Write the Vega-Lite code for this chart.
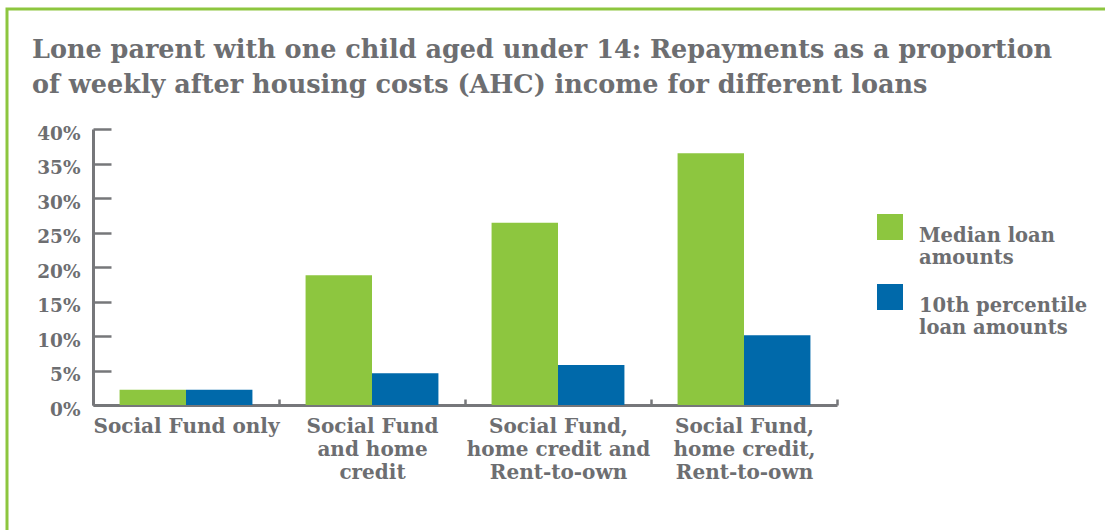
{
  "$schema": "https://vega.github.io/schema/vega-lite/v6.json",
  "autosize": "none",
  "padding": {"left": 7, "top": 9, "right": 0, "bottom": 0},
  "width": 1098,
  "height": 521,
  "background": "#ffffff",
  "title": {
    "text": ["Lone parent with one child aged under 14: Repayments as a proportion", "of weekly after housing costs (AHC) income for different loans"],
    "anchor": "start",
    "frame": "group",
    "baseline": "top",
    "dx": 25,
    "dy": 93,
    "font": "DejaVu Serif",
    "fontWeight": "bold",
    "fontSize": 25.5,
    "lineHeight": 35,
    "color": "#6d6e71"
  },
  "config": {
    "view": {"stroke": "#8dc63f", "strokeWidth": 3, "strokeDash": [1098, 1619, 530, 0]},
    "font": "DejaVu Serif"
  },
  "data": {
    "values": [
      {"loan": "Social Fund only", "series": "Median loan amounts", "value": 0.022},
      {"loan": "Social Fund only", "series": "10th percentile loan amounts", "value": 0.022},
      {"loan": "Social Fund and home credit", "series": "Median loan amounts", "value": 0.188},
      {"loan": "Social Fund and home credit", "series": "10th percentile loan amounts", "value": 0.046},
      {"loan": "Social Fund, home credit and Rent-to-own", "series": "Median loan amounts", "value": 0.264},
      {"loan": "Social Fund, home credit and Rent-to-own", "series": "10th percentile loan amounts", "value": 0.058},
      {"loan": "Social Fund, home credit, Rent-to-own", "series": "Median loan amounts", "value": 0.365},
      {"loan": "Social Fund, home credit, Rent-to-own", "series": "10th percentile loan amounts", "value": 0.101}
    ]
  },
  "mark": {"type": "bar"},
  "encoding": {
    "x": {
      "field": "loan",
      "type": "nominal",
      "sort": null,
      "scale": {"range": [86, 830], "paddingInner": 0, "paddingOuter": 0},
      "axis": {
        "title": null,
        "orient": "bottom",
        "offset": -125,
        "labelAngle": 0,
        "tickBand": "extent",
        "tickSize": -6,
        "tickWidth": 2.5,
        "tickColor": "#76777a",
        "domainColor": "#76777a",
        "domainWidth": 3,
        "labelFont": "DejaVu Serif",
        "labelFontWeight": "bold",
        "labelFontSize": 20,
        "labelColor": "#6d6e71",
        "labelLineHeight": 23,
        "labelBaseline": "top",
        "labelPadding": 17,
        "labelLimit": 0,
        "labelExpr": "datum.value == 'Social Fund only' ? 'Social Fund only' : datum.value == 'Social Fund and home credit' ? ['Social Fund', 'and home', 'credit'] : datum.value == 'Social Fund, home credit and Rent-to-own' ? ['Social Fund,', 'home credit and', 'Rent-to-own'] : datum.value == 'Social Fund, home credit, Rent-to-own' ? ['Social Fund,', 'home credit,', 'Rent-to-own'] : ''"
      }
    },
    "xOffset": {
      "field": "series",
      "type": "nominal",
      "sort": ["Median loan amounts", "10th percentile loan amounts"],
      "scale": {"paddingInner": 0, "paddingOuter": 0.4}
    },
    "y": {
      "field": "value",
      "type": "quantitative",
      "scale": {"domain": [0, 0.4], "range": [396, 120], "nice": false},
      "axis": {
        "title": null,
        "orient": "left",
        "offset": -86,
        "values": [0, 0.05, 0.1, 0.15, 0.2, 0.25, 0.3, 0.35, 0.4],
        "format": ".0%",
        "grid": false,
        "tickSize": -18,
        "tickWidth": 2.5,
        "tickColor": "#76777a",
        "domainColor": "#76777a",
        "domainWidth": 3,
        "labelFont": "DejaVu Serif",
        "labelFontWeight": "bold",
        "labelFontSize": 18.5,
        "labelColor": "#6d6e71",
        "labelPadding": 31,
        "labelOffset": 4
      }
    },
    "color": {
      "field": "series",
      "type": "nominal",
      "scale": {"domain": ["Median loan amounts", "10th percentile loan amounts"], "range": ["#8dc63f", "#0069aa"]},
      "legend": {
        "title": null,
        "orient": "none",
        "legendX": 870,
        "legendY": 205,
        "symbolType": "square",
        "symbolSize": 676,
        "symbolStrokeWidth": 0,
        "symbolOpacity": 1,
        "labelFont": "DejaVu Serif",
        "labelFontWeight": "bold",
        "labelFontSize": 19.5,
        "labelColor": "#6d6e71",
        "labelLineHeight": 27,
        "labelBaseline": "top",
        "labelOffset": 16,
        "labelLimit": 0,
        "rowPadding": 17,
        "labelExpr": "datum.value == 'Median loan amounts' ? ['Median loan', 'amounts'] : ['10th percentile', 'loan amounts']"
      }
    }
  }
}
